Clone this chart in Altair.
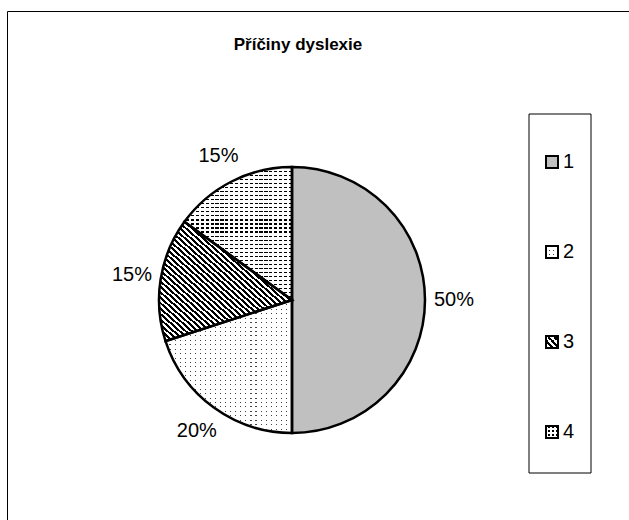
import altair as alt
import pandas as pd

# ---- data ----
categories = ["1", "2", "3", "4"]
shares = [50, 20, 15, 15]
pct_labels = ["50%", "20%", "15%", "15%"]
title_text = "Příčiny dyslexie"

df = pd.DataFrame({"cat": categories, "value": shares, "label": pct_labels})
frame_df = pd.DataFrame({"k": [0]})
title_df = pd.DataFrame({"t": [title_text]})

FONT = "Liberation Sans"
CX, CY, R = 285, 289, 133


def stripes(n, frac, dark, light, x1, y1, x2, y2):
    stops = []
    for i in range(n):
        a = i / n
        b = (i + frac) / n
        c = (i + 1) / n
        stops += [
            alt.GradientStop(offset=a, color=dark),
            alt.GradientStop(offset=b, color=dark),
            alt.GradientStop(offset=b, color=light),
            alt.GradientStop(offset=c, color=light),
        ]
    return alt.LinearGradient(gradient="linear", stops=stops, x1=x1, y1=y1, x2=x2, y2=y2)


CLEAR = "rgba(255,255,255,0)"

# pie fills (bounding boxes approx: s2 126x133, s3 133x119, s4 108x133)
pie_fill = {
    "1": "#c0c0c0",
    "2": stripes(30, 0.22, "#444444", "#ffffff", 0, 0, 0, 1),
    "3": stripes(44, 0.5, "#000000", "#ffffff", 0, 1, 1, 0),
    "4": stripes(33, 0.28, "#000000", "#ffffff", 0, 0, 0, 1),
}
pie_mask = {
    "2": stripes(25, 0.78, "#ffffff", CLEAR, 0, 0, 1, 0),
    "4": stripes(22, 0.35, "#ffffff", CLEAR, 0, 0, 1, 0),
}
sym_fill = {
    "1": "#c0c0c0",
    "2": stripes(3, 0.3, "#444444", "#ffffff", 0, 0, 0, 1),
    "3": stripes(4, 0.5, "#000000", "#ffffff", 0, 1, 1, 0),
    "4": stripes(3, 0.4, "#000000", "#ffffff", 0, 0, 0, 1),
}
sym_mask = {
    "2": stripes(3, 0.7, "#ffffff", CLEAR, 0, 0, 1, 0),
    "4": stripes(3, 0.4, "#ffffff", CLEAR, 0, 0, 1, 0),
}

theta_scale = alt.Scale(domain=[0, 100])

base = (
    alt.Chart(df)
    .transform_window(end="sum(value)", sort=[alt.SortField("cat")], frame=[None, 0])
    .transform_calculate(start="datum.end - datum.value", mid="datum.end - datum.value / 2")
)

arc_enc = dict(
    theta=alt.Theta("start:Q", scale=theta_scale),
    theta2="end:Q",
    x=alt.value(CX),
    y=alt.value(CY),
)

layers = []
for c in categories:
    layers.append(
        base.transform_filter(alt.datum.cat == c)
        .mark_arc(outerRadius=R, fill=pie_fill[c])
        .encode(**arc_enc)
    )
for c, m in pie_mask.items():
    layers.append(
        base.transform_filter(alt.datum.cat == c)
        .mark_arc(outerRadius=R, fill=m)
        .encode(**arc_enc)
    )
layers.append(
    base.mark_arc(outerRadius=R, fillOpacity=0, stroke="#000000", strokeWidth=2.5, strokeJoin="miter")
    .encode(**arc_enc)
)
layers.append(
    base.mark_text(radius=162, fontSize=20, font=FONT, color="#000000")
    .encode(
        theta=alt.Theta("mid:Q", scale=theta_scale),
        x=alt.value(CX),
        y=alt.value(CY),
        text="label:N",
    )
)

# ---- manual legend ----
leg_y = alt.Y(
    "cat:N",
    scale=alt.Scale(type="point", domain=categories, range=[151, 421], padding=0),
    axis=None,
)
legend_base = alt.Chart(df)
layers.append(
    alt.Chart(frame_df)
    .mark_rect(fillOpacity=0, stroke="#000000", strokeWidth=1)
    .encode(x=alt.value(522), x2=alt.value(584), y=alt.value(103), y2=alt.value(462))
)
for c in categories:
    layers.append(
        legend_base.transform_filter(alt.datum.cat == c)
        .mark_square(size=144, fill=sym_fill[c], opacity=1)
        .encode(x=alt.value(545), y=leg_y)
    )
for c, m in sym_mask.items():
    layers.append(
        legend_base.transform_filter(alt.datum.cat == c)
        .mark_square(size=144, fill=m, opacity=1)
        .encode(x=alt.value(545), y=leg_y)
    )
layers.append(
    legend_base.mark_square(size=144, fillOpacity=0, stroke="#000000", strokeWidth=2, opacity=1)
    .encode(x=alt.value(545), y=leg_y)
)
layers.append(
    legend_base.mark_text(fontSize=20, font=FONT, align="left", baseline="middle", color="#000000")
    .encode(x=alt.value(556), y=leg_y, text="cat:N")
)

# ---- title ----
layers.append(
    alt.Chart(title_df)
    .mark_text(fontSize=17, fontWeight="bold", font=FONT, baseline="alphabetic", color="#000000")
    .encode(x=alt.value(291), y=alt.value(39), text="t:N")
)

chart = (
    alt.layer(*layers)
    .properties(
        width=622,
        height=509,
        autosize=alt.AutoSizeParams(type="none"),
        padding={"left": 7, "top": 11, "right": 0, "bottom": 0},
        background="#ffffff",
    )
    .configure_view(stroke="#000000", strokeWidth=1)
)

chart.save("out.html", embed_options={"renderer": "svg", "actions": False})
